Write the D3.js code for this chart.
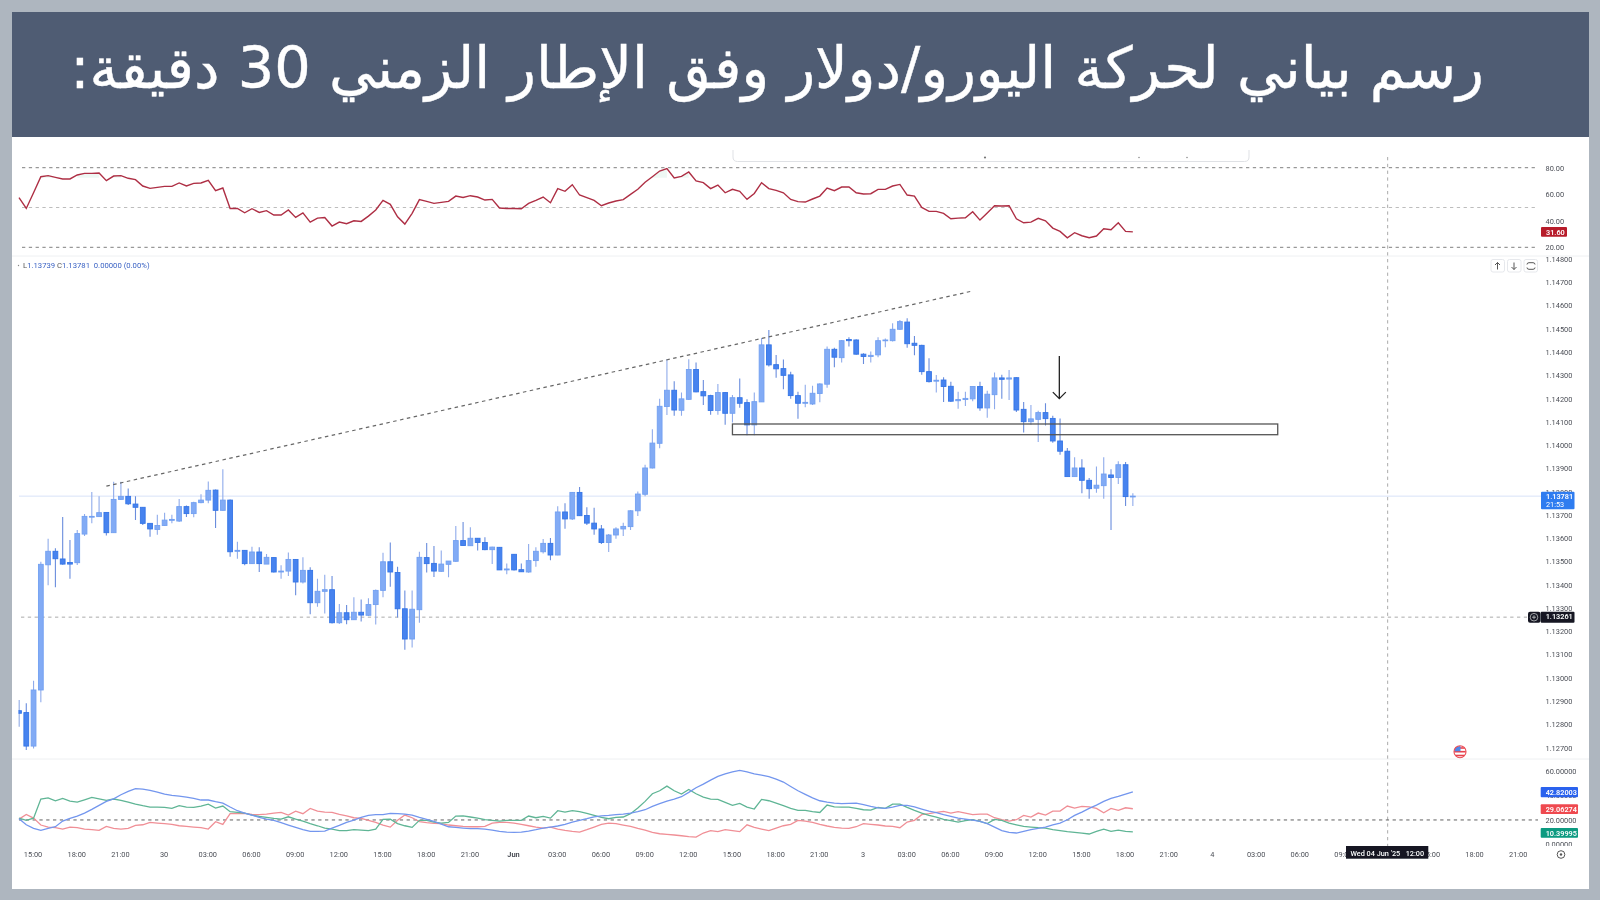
<!DOCTYPE html>
<html><head><meta charset="utf-8">
<script src="https://cdnjs.cloudflare.com/ajax/libs/d3/7.8.5/d3.min.js"></script>
<style>
html,body{margin:0;padding:0;background:#aeb6bf;overflow:hidden}
svg{display:block}
text{font-family:Roboto,"Liberation Sans",sans-serif}
</style></head><body><svg id="c" width="1600" height="900"></svg>
<script>
const titleText="رسم بياني لحركة اليورو/دولار وفق الإطار الزمني 30 دقيقة:";
const opens=[1.12859,1.12851,1.12707,1.12948,1.13486,1.13544,1.13511,1.13496,1.13495,1.13618,1.13691,1.13693,1.13711,1.13624,1.13767,1.13780,1.13747,1.13733,1.13664,1.13638,1.13655,1.13677,1.13674,1.13736,1.13706,1.13753,1.13764,1.13807,1.13720,1.13764,
1.13544,1.13548,1.13491,1.13541,1.13489,1.13517,1.13455,1.13459,1.13509,1.13412,1.13462,1.13323,1.13372,1.13379,1.13237,1.13280,1.13250,1.13282,1.13269,1.13315,
1.13376,1.13499,1.13453,1.13297,1.13167,1.13293,1.13517,1.13492,1.13458,1.13488,1.13501,1.13590,1.13568,1.13600,1.13582,1.13551,1.13561,1.13464,1.13531,1.13465,
1.13455,1.13504,1.13542,1.13578,1.13528,1.13713,1.13683,1.13797,1.13698,1.13665,1.13640,1.13582,1.13614,1.13640,1.13650,1.13718,1.13789,1.13902,1.14008,1.14166,
1.14236,1.14150,1.14197,1.14325,1.14230,1.14213,1.14149,1.14226,1.14137,1.14204,1.14183,1.14087,1.14186,1.14431,1.14346,1.14329,1.14302,1.14213,1.14180,1.14177,
1.14222,1.14262,1.14412,1.14376,1.14454,1.14452,1.14391,1.14381,1.14388,1.14449,1.14449,1.14498,1.14529,1.14438,1.14429,1.14316,1.14275,1.14280,1.14253,1.14191,
1.14196,1.14199,1.14252,1.14160,1.14217,1.14289,1.14284,1.14290,1.14154,1.14101,1.14111,1.14140,1.14115,1.14018,1.13974,1.13865,1.13902,1.13849,1.13815,1.13826,
1.13872,1.13861,1.13916,1.13779];
const highs=[1.12905,1.12891,1.12988,1.13499,1.13598,1.13557,1.13691,1.13592,1.13635,1.13704,1.13799,1.13781,1.13711,1.13843,1.13843,1.13814,1.13781,1.13733,1.13664,1.13701,1.13710,1.13701,1.13769,1.13741,1.13757,1.13789,1.13844,1.13810,1.13896,1.13767,
1.13585,1.13549,1.13564,1.13561,1.13532,1.13518,1.13484,1.13539,1.13511,1.13518,1.13475,1.13426,1.13443,1.13438,1.13317,1.13313,1.13346,1.13337,1.13342,1.13380,
1.13538,1.13582,1.13478,1.13375,1.13375,1.13542,1.13580,1.13567,1.13547,1.13502,1.13653,1.13670,1.13647,1.13601,1.13604,1.13564,1.13562,1.13492,1.13532,1.13492,
1.13575,1.13561,1.13597,1.13601,1.13738,1.13750,1.13799,1.13820,1.13733,1.13731,1.13657,1.13618,1.13647,1.13667,1.13720,1.13801,1.13916,1.14068,1.14199,1.14369,
1.14275,1.14226,1.14369,1.14355,1.14280,1.14217,1.14263,1.14227,1.14216,1.14287,1.14197,1.14226,1.14461,1.14495,1.14388,1.14368,1.14316,1.14230,1.14260,1.14255,
1.14266,1.14424,1.14419,1.14452,1.14464,1.14455,1.14395,1.14402,1.14464,1.14458,1.14524,1.14538,1.14545,1.14469,1.14431,1.14373,1.14302,1.14292,1.14272,1.14230,
1.14230,1.14252,1.14272,1.14234,1.14312,1.14303,1.14323,1.14292,1.14186,1.14173,1.14148,1.14180,1.14126,1.14115,1.13988,1.13948,1.13939,1.13859,1.13908,1.13948,
1.13896,1.13931,1.13928,1.13793];
const lows=[1.12790,1.12690,1.12697,1.12895,1.13398,1.13390,1.13486,1.13426,1.13485,1.13610,1.13664,1.13693,1.13612,1.13624,1.13764,1.13743,1.13678,1.13657,1.13607,1.13615,1.13653,1.13664,1.13670,1.13691,1.13690,1.13750,1.13750,1.13644,1.13718,1.13521,
1.13512,1.13484,1.13489,1.13455,1.13489,1.13453,1.13426,1.13438,1.13355,1.13406,1.13273,1.13306,1.13277,1.13234,1.13232,1.13230,1.13249,1.13242,1.13266,1.13229,
1.13346,1.13392,1.13260,1.13121,1.13131,1.13237,1.13453,1.13433,1.13455,1.13432,1.13498,1.13568,1.13567,1.13547,1.13549,1.13489,1.13464,1.13445,1.13461,1.13455,
1.13452,1.13478,1.13534,1.13506,1.13527,1.13641,1.13678,1.13696,1.13657,1.13615,1.13575,1.13541,1.13598,1.13610,1.13635,1.13696,1.13781,1.13900,1.13987,1.14130,
1.14126,1.14126,1.14194,1.14227,1.14173,1.14131,1.14131,1.14088,1.14097,1.14161,1.14043,1.14043,1.14186,1.14338,1.14290,1.14240,1.14200,1.14114,1.14163,1.14173,
1.14184,1.14247,1.14335,1.14355,1.14424,1.14389,1.14349,1.14355,1.14378,1.14421,1.14446,1.14495,1.14419,1.14386,1.14303,1.14269,1.14226,1.14186,1.14186,1.14157,
1.14168,1.14189,1.14148,1.14118,1.14154,1.14200,1.14194,1.14143,1.14054,1.14088,1.14014,1.14085,1.14010,1.13959,1.13865,1.13865,1.13793,1.13770,1.13796,1.13770,
1.13636,1.13833,1.13739,1.13739];
const closes=[1.12848,1.12707,1.12948,1.13488,1.13544,1.13512,1.13489,1.13489,1.13620,1.13694,1.13694,1.13710,1.13624,1.13767,1.13780,1.13748,1.13733,1.13664,1.13640,1.13655,1.13678,1.13681,1.13736,1.13706,1.13753,1.13764,1.13806,1.13720,1.13764,1.13542,
1.13548,1.13491,1.13541,1.13491,1.13518,1.13455,1.13459,1.13509,1.13412,1.13462,1.13323,1.13372,1.13379,1.13237,1.13280,1.13250,1.13282,1.13270,1.13315,1.13376,
1.13499,1.13455,1.13297,1.13167,1.13295,1.13518,1.13491,1.13459,1.13489,1.13502,1.13590,1.13569,1.13600,1.13582,1.13551,1.13562,1.13464,1.13468,1.13464,1.13456,
1.13504,1.13544,1.13578,1.13528,1.13713,1.13683,1.13797,1.13697,1.13665,1.13640,1.13582,1.13614,1.13640,1.13651,1.13718,1.13790,1.13902,1.14009,1.14167,1.14236,
1.14151,1.14199,1.14325,1.14229,1.14212,1.14149,1.14226,1.14137,1.14204,1.14180,1.14087,1.14187,1.14431,1.14345,1.14328,1.14300,1.14213,1.14180,1.14184,1.14223,
1.14263,1.14412,1.14378,1.14449,1.14449,1.14391,1.14381,1.14386,1.14449,1.14452,1.14498,1.14531,1.14436,1.14429,1.14316,1.14273,1.14279,1.14252,1.14189,1.14196,
1.14201,1.14252,1.14160,1.14219,1.14289,1.14283,1.14289,1.14151,1.14101,1.14113,1.14140,1.14114,1.14018,1.13974,1.13865,1.13902,1.13849,1.13813,1.13828,1.13876,
1.13861,1.13916,1.13779,1.13781];
const rsi=[57.4,49.3,61.1,73.2,74.0,72.7,71.5,71.5,74.5,75.7,75.7,76.0,70.2,73.7,74.0,72.0,71.0,66.2,64.4,65.2,65.9,65.9,68.5,66.2,68.2,68.5,70.5,62.7,64.7,49.3,
49.3,46.0,49.1,46.3,47.6,44.3,44.3,48.1,42.5,46.0,39.0,42.0,42.5,36.0,39.0,37.8,40.0,39.5,43.5,48.1,55.4,52.4,43.0,37.5,45.6,55.9,54.6,53.1,53.9,54.6,
58.6,57.6,58.9,57.9,55.6,56.1,49.6,49.3,49.3,49.1,53.1,55.4,57.9,53.6,64.2,
62.2,67.2,59.4,57.4,55.4,51.3,53.4,54.9,55.9,59.9,63.7,69.0,73.2,77.5,79.3,72.2,73.5,76.8,70.0,68.7,64.2,66.9,61.1,63.7,62.2,56.1,60.6,68.7,64.2,62.9,
61.1,56.1,54.4,54.1,56.4,58.6,64.7,62.7,65.4,65.4,61.1,60.2,60.4,63.7,63.7,66.2,67.4,59.4,58.6,50.1,47.1,47.1,45.6,41.5,42.0,42.3,46.8,40.5,45.8,51.3,
51.1,51.3,41.5,38.5,39.0,41.8,40.0,34.5,32.0,27.2,31.0,28.7,27.2,28.5,34.0,33.2,38.5,32.0,31.6];
const diMinus=[20.7,24.5,21.5,15.9,14.2,13.7,12.6,14.2,13.7,12.6,12.1,11.5,14.8,13.2,12.6,13.2,15.6,16.1,18.0,17.5,17.0,16.4,15.3,14.8,14.2,13.7,12.6,18.6,16.4,25.1,
25.1,25.3,24.5,24.3,24.8,25.6,26.1,24.0,27.2,25.1,29.4,27.2,26.4,26.1,24.5,23.4,21.8,21.3,19.7,18.0,15.9,14.2,19.7,24.0,21.8,18.6,17.8,17.2,17.0,15.9,
15.3,14.8,14.5,14.5,14.8,17.5,18.0,18.0,17.5,16.4,15.3,14.2,13.4,14.2,12.6,
11.5,10.7,10.2,12.1,14.2,16.4,17.5,17.0,15.9,14.8,13.2,11.8,9.9,8.8,8.3,7.8,7.2,6.4,6.1,9.4,11.3,10.5,12.1,11.3,10.5,16.1,14.0,12.6,11.3,13.4,
15.3,16.4,19.7,19.1,18.0,16.4,15.1,14.0,13.4,13.2,14.5,17.0,16.4,15.9,15.1,14.8,13.7,18.3,19.7,24.3,25.1,26.1,27.0,25.6,26.7,25.6,24.3,24.8,24.8,21.8,
20.2,19.1,20.2,23.7,22.4,25.6,24.0,27.2,27.2,31.3,29.7,31.0,30.7,29.4,25.9,29.4,27.8,29.9,29.1];
const diPlus=[21.5,19.7,21.5,37.0,38.0,35.6,37.5,35.3,34.5,36.4,38.3,37.2,35.9,37.0,35.9,34.5,32.9,31.6,30.5,30.5,30.2,29.4,31.6,30.5,30.2,31.3,32.9,29.7,31.3,26.7,
26.1,25.6,24.0,22.9,22.1,21.3,20.7,22.6,20.7,19.1,17.0,15.3,13.4,12.6,11.3,11.3,12.1,11.8,11.3,12.6,20.5,20.7,17.0,15.3,14.0,19.7,19.7,18.3,17.5,18.0,
23.2,23.4,22.4,21.5,20.2,19.7,19.1,19.7,19.7,19.7,23.2,21.8,22.9,21.5,27.5,
26.4,27.5,26.7,25.3,23.7,22.1,21.0,22.1,22.4,25.1,29.7,35.1,41.3,43.7,47.5,43.7,41.0,44.8,41.3,38.6,37.0,36.7,34.3,31.8,33.4,30.5,28.9,36.7,35.6,33.7,
31.6,29.4,27.8,27.8,26.7,26.1,32.1,30.7,30.5,30.5,29.4,28.3,28.0,30.2,29.4,32.9,32.9,30.2,27.8,25.6,23.7,22.4,20.5,19.4,18.3,19.4,20.2,18.8,17.0,20.5,
19.7,17.5,16.1,14.8,14.2,13.7,13.4,12.1,11.3,10.5,9.9,9.4,8.6,10.7,12.6,10.7,11.8,10.7,10.4];
const adx=[21.0,16.1,13.2,11.5,13.2,14.5,19.1,21.3,23.2,25.6,28.6,31.8,35.1,37.2,40.5,43.2,45.4,45.1,44.0,42.6,41.0,39.9,39.4,38.6,37.5,36.2,36.2,34.8,33.7,30.5,
27.5,25.6,24.0,22.1,20.7,19.7,17.8,15.9,14.0,12.1,10.7,10.7,11.0,13.4,15.6,18.0,19.9,22.1,23.7,24.3,24.3,25.3,25.1,24.8,24.0,22.1,20.5,18.8,16.7,14.5,
14.0,13.4,12.9,12.9,12.6,11.8,10.7,10.2,9.9,10.2,11.0,12.1,13.4,14.2,15.1,
16.4,18.3,19.7,21.0,22.6,23.4,23.7,24.3,24.8,25.6,26.7,28.3,31.0,33.2,35.3,37.0,38.9,42.4,46.2,49.1,52.4,55.4,57.5,59.1,60.2,59.1,57.5,56.4,55.1,53.2,
50.8,47.2,43.7,40.8,38.0,35.6,34.5,33.7,33.2,33.4,33.7,32.4,31.0,29.9,29.4,30.5,31.8,31.8,30.7,28.9,27.2,25.9,24.3,22.9,21.5,20.7,19.9,18.8,17.0,14.2,
11.3,9.9,9.4,10.7,12.1,13.2,14.2,16.1,17.5,20.2,23.7,26.4,29.4,32.1,35.1,37.5,39.1,41.0,42.8];
const priceTicks=[1.127,1.128,1.129,1.130,1.131,1.132,1.133,1.134,1.135,1.136,1.137,1.138,1.139,1.140,1.141,1.142,1.143,1.144,1.145,1.146,1.147,1.148];
const rsiTicks=[20,40,60,80], rsiLevels=[20,50,80];
const dmiTicks=[0,20,40,60], dmiLevel=20;
const timeLabels=["15:00","18:00","21:00","30","03:00","06:00","09:00","12:00","15:00","18:00","21:00","Jun","03:00","06:00","09:00","12:00","15:00","18:00","21:00","3","03:00","06:00","09:00","12:00","15:00","18:00","21:00","4","03:00","06:00","09:00","","15:00","18:00","21:00"];
const timeTickBars=timeLabels.map((d,i)=>2+i*6);
const trendBars=[12,130.9], trendPrices=[1.13824,1.14662];
const zoneBars=[98,172.9], zonePrices=[1.14091,1.14045];
const arrowBar=142.9, arrowPrices=[1.14383,1.14200];
const crossBar=188, crossPrice=1.13261, lastPrice=1.13781;

const C={frame:"#aeb6bf",head:"#4f5c73",light:"#82abf5",lightB:"#72a0f1",dark:"#4683ef",darkB:"#3575e6",wl:"#8fabeb",wd:"#6a8ddd",grid:"#8a8a8a",txt:"#4c4f57"};
const svg=d3.select("#c");
const defs=svg.append("defs");
defs.append("filter").attr("id","soft").attr("x",0).attr("y",0).attr("width",1).attr("height",1).attr("filterUnits","objectBoundingBox")
 .append("feGaussianBlur").attr("stdDeviation",.5);
const x=d3.scaleLinear().domain([0,206]).range([19,1518.7]);
const yP=d3.scaleLinear().domain([1.127,1.148]).range([747.7,259]);
const yR=d3.scaleLinear().domain([20,80]).range([247.3,167.7]);
const yD=d3.scaleLinear().domain([0,60]).range([844.6,770.7]);
const idx=d3.range(opens.length);

// frame
svg.append("rect").attr("width",1600).attr("height",900).attr("fill",C.frame);
svg.append("rect").attr("x",12).attr("y",137).attr("width",1577).attr("height",752).attr("fill","#fff");
svg.append("rect").attr("x",12).attr("y",12).attr("width",1577).attr("height",125).attr("fill",C.head);
const tt=svg.append("text").attr("x",777).attr("y",88).attr("text-anchor","middle").attr("direction","rtl")
 .attr("fill","#fff").attr("stroke","#fff").attr("stroke-width",.4).style("font-family",'"DejaVu Sans"').style("font-size","56px").text(titleText);
const len=tt.node().getComputedTextLength();
tt.style("font-size",(56*1414/len)+"px");

const chart=svg.append("g").attr("filter","url(#soft)");
chart.append("rect").attr("x",12).attr("y",137).attr("width",1577).attr("height",752).attr("fill","#fff");
// pane separators
[256,759].forEach(y=>chart.append("line").attr("x1",12).attr("x2",1589).attr("y1",y).attr("y2",y).attr("stroke","#eef0f2"));
// hidden legend panel at top
chart.append("path").attr("d","M733 150v7q0 4.500 4.500 4.500h507q4.500 0 4.500 -4.500v-7").attr("fill","#fff").attr("stroke","#dfe1e5");
[[985,1.1],[1139,.7],[1187,.7]].forEach(d=>chart.append("circle").attr("cx",d[0]).attr("cy",157.500).attr("r",d[1]).attr("fill","#777"));

// dashed levels
const dash=(x1,x2,y1,y2,col)=>chart.append("line").attr("x1",x1).attr("x2",x2).attr("y1",y1).attr("y2",y2).attr("stroke",col||"#777").attr("stroke-width",1).attr("stroke-dasharray","3.300 3.500");
rsiLevels.forEach(v=>dash(x(0)+3,1538,yR(v),yR(v),v===50?"#bdbdbd":"#808080"));
dash(x(crossBar),x(crossBar),157,846,"#aaa");
dash(x(0)+2,1527,yP(crossPrice),yP(crossPrice),"#aaa");
dash(x(0),1538,yD(dmiLevel),yD(dmiLevel),"#606060");
// last price line
chart.append("line").attr("x1",x(0)).attr("x2",1541).attr("y1",yP(lastPrice)).attr("y2",yP(lastPrice)).attr("stroke","#d8e2f8");

// RSI
const rsiArea=d3.area().defined(d=>d>=72.5).x((d,i)=>x(i)).y0(yR(72.5)).y1(d=>yR(d));
chart.append("path").attr("d",rsiArea(rsi)).attr("fill","#0a9a60").attr("opacity",.07);
const rl=d3.line().x((d,i)=>x(i)).y(d=>yR(d));
chart.append("path").attr("d",rl(rsi)).attr("fill","none").attr("stroke","#ae2f44").attr("stroke-width",1.400);

// DMI
const dl=d3.line().x((d,i)=>x(i)).y(d=>yD(d));
[[diMinus,"#f08f96"],[diPlus,"#5fb595"],[adx,"#7396ee"]].forEach(s=>
 chart.append("path").attr("d",dl(s[0])).attr("fill","none").attr("stroke",s[1]).attr("stroke-width",1.300));

// candles
svg.select("defs").append("clipPath").attr("id","cclip").append("rect").attr("x",18.500).attr("y",250).attr("width",1500).attr("height",510);
const cg=chart.append("g").attr("clip-path","url(#cclip)");
cg.selectAll("line.w").data(idx).join("line").attr("class","w")
 .attr("x1",i=>x(i)).attr("x2",i=>x(i)).attr("y1",i=>yP(highs[i])).attr("y2",i=>yP(lows[i]))
 .attr("stroke",i=>closes[i]>=opens[i]?C.wl:C.wd).attr("stroke-width",1.100);
cg.selectAll("rect.b").data(idx).join("rect").attr("class","b")
 .attr("x",i=>x(i)-2.400).attr("width",4.800)
 .attr("y",i=>yP(Math.max(opens[i],closes[i])))
 .attr("height",i=>Math.max(.8,Math.abs(yP(opens[i])-yP(closes[i]))))
 .attr("fill",i=>closes[i]>=opens[i]?C.light:C.dark)
 .attr("stroke",i=>closes[i]>=opens[i]?C.lightB:C.darkB).attr("stroke-width",.9);

// trendline, zone, arrow
chart.append("path").attr("d",d3.line().x(d=>x(d[0])).y(d=>yP(d[1]))(d3.zip(trendBars,trendPrices)))
 .attr("stroke","#666").attr("stroke-width",1.200).attr("stroke-dasharray","3.500 3.500").attr("fill","none");
chart.append("rect").attr("x",x(zoneBars[0])).attr("width",x(zoneBars[1])-x(zoneBars[0]))
 .attr("y",yP(zonePrices[0])).attr("height",yP(zonePrices[1])-yP(zonePrices[0]))
 .attr("fill","none").attr("stroke","#555").attr("stroke-width",1.300);
const ax=x(arrowBar), ay0=yP(arrowPrices[0]), ay1=yP(arrowPrices[1]);
chart.append("path").attr("d",`M${ax} ${ay0}V${ay1}M${ax-6.500} ${ay1-6.500}L${ax} ${ay1}L${ax+6.500} ${ay1-6.500}`)
 .attr("fill","none").attr("stroke","#222").attr("stroke-width",1.300);

// axes
function styleAxis(g,size){
 g.select(".domain").remove();
 g.selectAll(".tick line").remove();
 g.selectAll("text").attr("fill",C.txt).style("font-size",size+"px").style("font-family",'Roboto,"Liberation Sans",sans-serif');
}
chart.append("g").attr("transform","translate(1545.500,0)")
 .call(d3.axisRight(yP).tickValues(priceTicks).tickFormat(d3.format(".5f")).tickSize(0).tickPadding(0)).call(styleAxis,7.400);
chart.append("g").attr("transform","translate(1545.500,0)")
 .call(d3.axisRight(yR).tickValues(rsiTicks).tickFormat(d3.format(".2f")).tickSize(0).tickPadding(0)).call(styleAxis,7.400);
svg.select("defs").append("clipPath").attr("id","dmiClip").append("rect").attr("x",1540).attr("y",760).attr("width",50).attr("height",86);
chart.append("g").attr("clip-path","url(#dmiClip)").append("g").attr("transform","translate(1545.500,0)")
 .call(d3.axisRight(yD).tickValues(dmiTicks).tickFormat(d3.format(".5f")).tickSize(0).tickPadding(0)).call(styleAxis,7.400);
chart.append("g").attr("transform","translate(-1,848.500)")
 .call(d3.axisBottom(x).tickValues(timeTickBars).tickFormat((d,i)=>timeLabels[i]).tickSize(0).tickPadding(3)).call(styleAxis,7.400)
 .selectAll("text").attr("font-weight",(d,i)=>timeLabels[i]==="Jun"?"700":"400");

// tags
function tag(x0,x1,y0,y1,fill,lines){
 chart.append("rect").attr("x",x0).attr("y",y0).attr("width",x1-x0).attr("height",y1-y0).attr("rx",1).attr("fill",fill);
 lines.forEach((t,i)=>chart.append("text").attr("x",x0+5).attr("y",y0+7.500+i*7.800).attr("fill","#fff").style("font-size","7.300px").attr("font-weight",i==0?600:400).text(t));
}
tag(1541,1567,227,236.700,"#b71c2c",["31.60"]);
tag(1541,1574.500,491.700,509.300,"#2d7bf0",["1.13781","21:53"]);
tag(1540.700,1574.500,611.700,622.700,"#131722",["1.13261"]);
tag(1540.700,1578,787,797.300,"#2962ee",["42.82003"]);
tag(1540.700,1578,804.300,814,"#ef4a50",["29.06274"]);
tag(1540.700,1578,828,837.700,"#089a80",["10.39995"]);
// cross label plus button
chart.append("rect").attr("x",1528).attr("y",611.700).attr("width",12.500).attr("height",11).attr("rx",2).attr("fill","#131722");
chart.append("circle").attr("cx",1534).attr("cy",617.200).attr("r",3.800).attr("fill","none").attr("stroke","#ddd").attr("stroke-width",.7);
chart.append("path").attr("d","M1532 617.200h4M1534 615.200v4").attr("stroke","#ddd").attr("stroke-width",.7);
// date tag
chart.append("rect").attr("x",1346).attr("y",846).attr("width",82.300).attr("height",12.700).attr("fill","#131722");
chart.append("text").attr("x",1387.300).attr("y",855.500).attr("text-anchor","middle").attr("fill","#fff").style("font-size","7.300px").attr("font-weight",500).attr("xml:space","preserve").text("Wed 04 Jun '25   12:00");
// settings icon
chart.append("circle").attr("cx",1561).attr("cy",854.500).attr("r",3.800).attr("fill","none").attr("stroke","#555");
chart.append("circle").attr("cx",1561).attr("cy",854.500).attr("r",1.200).attr("fill","#555");

// legend
const lg=chart.append("text").attr("x",23).attr("y",268).style("font-size","7.700px").attr("xml:space","preserve");
[["L","#555"],["1.13739 ","#3a62c4"],["C","#555"],["1.13781  0.00000 (0.00%)","#3a62c4"]].forEach(d=>lg.append("tspan").attr("fill",d[1]).text(d[0]));
chart.append("circle").attr("cx",18.500).attr("cy",265.500).attr("r",.7).attr("fill","#888");

// buttons
[[1491,"M1497.500 269.500v-7m-2.500 2.500l2.500-2.500l2.500 2.500"],[1507.500,"M1514 262.500v7m-2.500-2.500l2.500 2.500l2.500-2.500"],[1524,"M1527 264.500q0-1.800 2-1.800h4q2 0 2 1.800m0 3q0 1.800-2 1.800h-4q-2 0-2-1.800"]].forEach(d=>{
 chart.append("rect").attr("x",d[0]).attr("y",259.500).attr("width",13.500).attr("height",12.500).attr("rx",2).attr("fill","#fff").attr("stroke","#e6e8ec");
 chart.append("path").attr("d",d[1]).attr("fill","none").attr("stroke","#444").attr("stroke-width",.9);
});

// flag marker
const fx=1460, fy=751.700;
svg.select("defs").append("clipPath").attr("id","fl").append("circle").attr("cx",fx).attr("cy",fy).attr("r",5.800);
const fg=chart.append("g").attr("clip-path","url(#fl)");
fg.append("rect").attr("x",fx-7).attr("y",fy-7).attr("width",14).attr("height",14).attr("fill","#fff");
[-4.500,-.800,3].forEach(d=>fg.append("rect").attr("x",fx-7).attr("y",fy+d).attr("width",14).attr("height",1.600).attr("fill","#e8434e"));
fg.append("rect").attr("x",fx-7).attr("y",fy-7).attr("width",7.500).attr("height",6.500).attr("fill","#4f88ea");
chart.append("circle").attr("cx",fx).attr("cy",fy).attr("r",6).attr("fill","none").attr("stroke","#ea4a54").attr("stroke-width",1.100);
</script></body></html>
